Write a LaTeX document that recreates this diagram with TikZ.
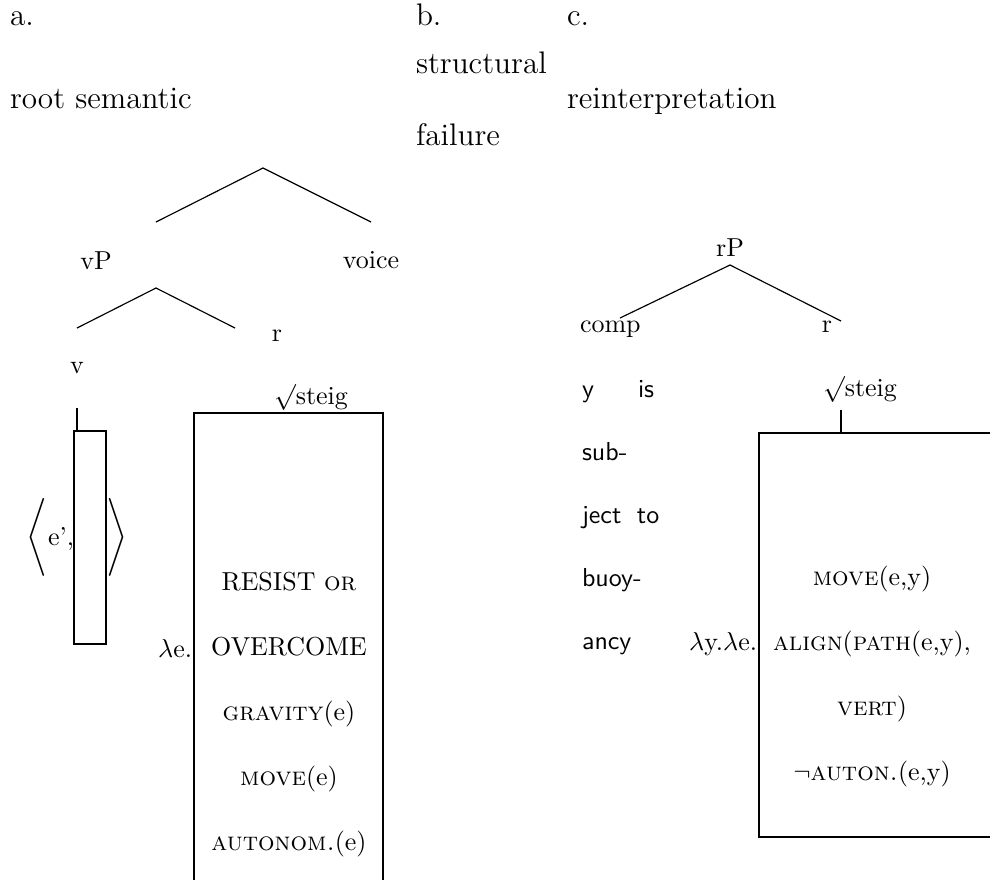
\documentclass[tikz,border=0pt]{standalone}
\begin{document}
\begin{tikzpicture}[x=0.385pt,y=-0.385pt,
  txt/.style={inner sep=0pt,outer sep=0pt,anchor=base},
  txtl/.style={txt,anchor=base west},
  txtr/.style={txt,anchor=base east},
  head/.style={txtl,font=\large},
  branch/.style={draw,line width=0.45pt},
  frame/.style={draw,line width=0.45pt},
  sanstxt/.style={txtl,font=\sffamily}]
\useasboundingbox (0,0) rectangle (990,879);
% headings
\node[head] (la) at (10,25) {a.};
\node[head] (lb) at (416,25) {b.};
\node[head] (lc) at (567,25) {c.};
\node[head] (hstruct) at (416,73) {structural};
\node[head] (hroot) at (10,108) {root semantic};
\node[head] (hreint) at (567,108) {reinterpretation};
\node[head] (hfail) at (416,145) {failure};
% tree a
\coordinate (apA) at (263,168);
\coordinate (apAl) at (156,222);
\coordinate (apAr) at (371,222);
\draw[branch] (apAl) -- (apA) -- (apAr);
\node[txt] (vP) at (96,269) {vP};
\node[txt] (voice) at (371,268) {voice};
\coordinate (apB) at (156,288);
\coordinate (apBl) at (77,328);
\coordinate (apBr) at (235,328);
\draw[branch] (apBl) -- (apB) -- (apBr);
\node[txt] (rA) at (277,341) {r};
\node[txt] (vA) at (77,373) {v};
\node[txt] (steigA) at (311,404) {$\surd$steig};
% small box with angle brackets
\coordinate (stemAtop) at (77,408);
\coordinate (stemAbot) at (77,431);
\draw[branch] (stemAtop) -- (stemAbot);
\draw[frame] (74,431) rectangle (106,644);
\node[inner sep=0pt] (langle) at (37,537) {$\Bigg\langle$};
\node[txtl] (eprime) at (48,545) {e',};
\node[inner sep=0pt] (rangle) at (117,537) {$\Bigg\rangle$};
% big box a
\draw[frame] (194,900) -- (194,413) -- (383,413) -- (383,900);
\node[txtr] (lame) at (192,657) {$\lambda$e.};
\node[txt] (a1) at (289,590) {RESIST \textsc{or}};
\node[txt] (a2) at (289,655) {OVERCOME};
\node[txt] (a3) at (289,720) {\textsc{gravity}(e)};
\node[txt] (a4) at (289,785) {\textsc{move}(e)};
\node[txt] (a5) at (289,850) {\textsc{autonom.}(e)};
% tree c
\node[txt] (rP) at (730,256) {rP};
\coordinate (apC) at (730,265);
\coordinate (apCl) at (620,318);
\coordinate (apCr) at (841,321);
\draw[branch] (apCl) -- (apC) -- (apCr);
\node[txtl] (comp) at (580,332) {comp};
\node[txt] (rC) at (827,332) {r};
\node[sanstxt] (s1a) at (582,397) {y};
\node[sanstxt] (s1b) at (638,397) {is};
\node[sanstxt] (s2) at (582,460) {sub-};
\node[sanstxt] (s3) at (582,523) {ject\hspace{0.6em}to};
\node[sanstxt] (s4) at (582,586) {buoy-};
\node[sanstxt] (s5) at (582,649) {ancy};
\node[txt] (steigC) at (860,396) {$\surd$steig};
\coordinate (stemCtop) at (841,410);
\coordinate (stemCbot) at (841,433);
\draw[branch] (stemCtop) -- (stemCbot);
\draw[frame] (1000,433) -- (759,433) -- (759,837) -- (1000,837);
\node[txtr] (lamye) at (757,650) {$\lambda$y.$\lambda$e.};
\node[txt] (c1) at (872,585) {\textsc{move}(e,y)};
\node[txt] (c2) at (872,650) {\textsc{align}(\textsc{path}(e,y),};
\node[txt] (c3) at (872,715) {\textsc{vert})};
\node[txt] (c4) at (872,780) {$\neg$\textsc{auton.}(e,y)};
\end{tikzpicture}
\end{document}
